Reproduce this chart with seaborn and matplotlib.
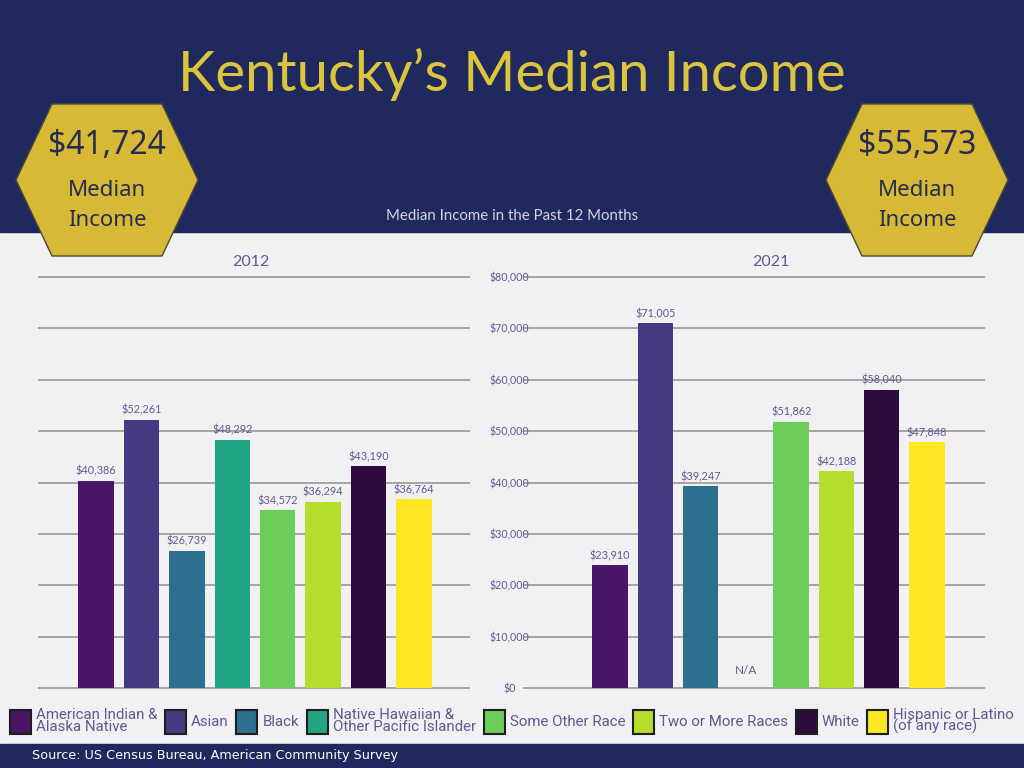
import matplotlib
matplotlib.use("Agg")
import matplotlib.pyplot as plt
from matplotlib.patches import Rectangle, Polygon, Patch
import numpy as np
import pandas as pd
import seaborn as sns

# data
groups = [
    "American Indian &\nAlaska Native",
    "Asian",
    "Black",
    "Native Hawaiian &\nOther Pacific Islander",
    "Some Other Race",
    "Two or More Races",
    "White",
    "Hispanic or Latino\n(of any race)",
]
income_2012 = [40386, 52261, 26739, 48292, 34572, 36294, 43190, 36764]
income_2021 = [23910, 71005, 39247, np.nan, 51862, 42188, 58040, 47848]
colors = ["#4b1565", "#443a83", "#2c6f8e", "#21a585",
          "#6ccd59", "#b5dd2b", "#2d0b3e", "#fde725"]
y_ticks = list(range(0, 80001, 10000))
median_2012 = "$41,724"
median_2021 = "$55,573"

NAVY = "#20295e"
LIGHT = "#f1f1f3"
GOLD = "#d8b936"
TXT = "#5c5a8f"

fig = plt.figure(figsize=(10.24, 7.68), dpi=100)
fig.patch.set_facecolor(LIGHT)

# background / decoration layer in pixel coordinates
bg = fig.add_axes([0, 0, 1, 1], zorder=0)
bg.set_xlim(0, 1024)
bg.set_ylim(768, 0)
bg.axis("off")
bg.add_patch(Rectangle((0, 0), 1024, 232, color=NAVY))
bg.add_patch(Rectangle((0, 744), 1024, 24, color=NAVY))

bg.text(512, 74, "Kentucky\u2019s Median Income", ha="center", va="center",
        color="#dcc43c", fontsize=40.5, family="Lato")
bg.text(512, 216, "Median Income in the Past 12 Months", ha="center", va="center",
        color="#d4d4e4", fontsize=10.8, family="Lato")

for cx, val in [(107, median_2012), (917, median_2021)]:
    hexagon = Polygon([(cx - 55, 104), (cx + 55, 104), (cx + 91, 180),
                       (cx + 55, 256), (cx - 55, 256), (cx - 91, 180)],
                      closed=True, facecolor=GOLD, edgecolor="#4a4838", lw=1)
    bg.add_patch(hexagon)
    bg.text(cx, 146, val, ha="center", va="center", color="#262b50",
            fontsize=23, family="Noto Sans")
    bg.text(cx, 191, "Median", ha="center", va="center", color="#262b50",
            fontsize=16, family="Noto Sans")
    bg.text(cx, 221, "Income", ha="center", va="center", color="#262b50",
            fontsize=16, family="Noto Sans")

bg.text(251, 262, "2012", ha="center", va="center", color=TXT,
        fontsize=11.5, family="Lato")
bg.text(771, 262, "2021", ha="center", va="center", color=TXT,
        fontsize=11.5, family="Lato")
bg.text(32, 755, "Source: US Census Bureau, American Community Survey",
        ha="left", va="center", color="white", fontsize=9.2, family="DejaVu Sans")

palette = dict(zip(groups, colors))

ax_bottom = 1 - 698.3 / 768
ax_height = (698.3 - 266.7) / 768
ax1 = fig.add_axes([38 / 1024, ax_bottom, 432 / 1024, ax_height], zorder=1)
ax2 = fig.add_axes([523 / 1024, ax_bottom, 462 / 1024, ax_height], zorder=1)

for ax, vals, xlim in [(ax1, income_2012, (-1.276, 8.23)),
                       (ax2, income_2021, (-1.92, 8.28))]:
    df = pd.DataFrame({"group": groups, "income": vals}).dropna()
    sns.barplot(data=df, x="group", y="income", hue="group", order=groups,
                hue_order=groups, palette=palette, saturation=1, width=0.78,
                errorbar=None, legend=False, ax=ax)
    for c in ax.containers:
        ax.bar_label(c, fmt="${:,.0f}", padding=3, fontsize=7.8,
                     color=TXT, family="Lato")
    ax.set_facecolor("none")
    ax.set_xlim(*xlim)
    ax.set_ylim(-2000, 82000)
    ax.set_yticks(y_ticks)
    ax.set_xticks([])
    ax.set_xlabel("")
    ax.set_ylabel("")
    ax.grid(axis="y", color="#a4a4a4", lw=1.4)
    ax.set_axisbelow(True)
    for s in ax.spines.values():
        s.set_visible(False)

ax1.tick_params(axis="y", length=0, labelleft=False)
ax2.set_yticklabels([f"${t:,.0f}" for t in y_ticks])
ax2.tick_params(axis="y", length=0, pad=9.5, labelsize=7.7, labelcolor=TXT)
for lbl in ax2.get_yticklabels():
    lbl.set_ha("center")
    lbl.set_family("Lato")
ax2.text(3, 3500, "N/A", ha="center", va="center", fontsize=8.5,
         color=TXT, family="Lato")

handles = [Patch(facecolor=c, edgecolor="#1e1e1e", lw=1.5) for c in colors]
leg = fig.legend(handles, groups, loc="center", bbox_to_anchor=(0.5, 1 - 721 / 768),
                 ncol=8, frameon=False, handlelength=1.4,
                 handleheight=2.1, handletextpad=0.35, columnspacing=0.5,
                 prop={"family": "Roboto", "size": 10.8})
for t in leg.get_texts():
    t.set_color(TXT)
    t.set_linespacing(0.78)

fig.savefig("out.png", dpi=100, facecolor=fig.get_facecolor())
